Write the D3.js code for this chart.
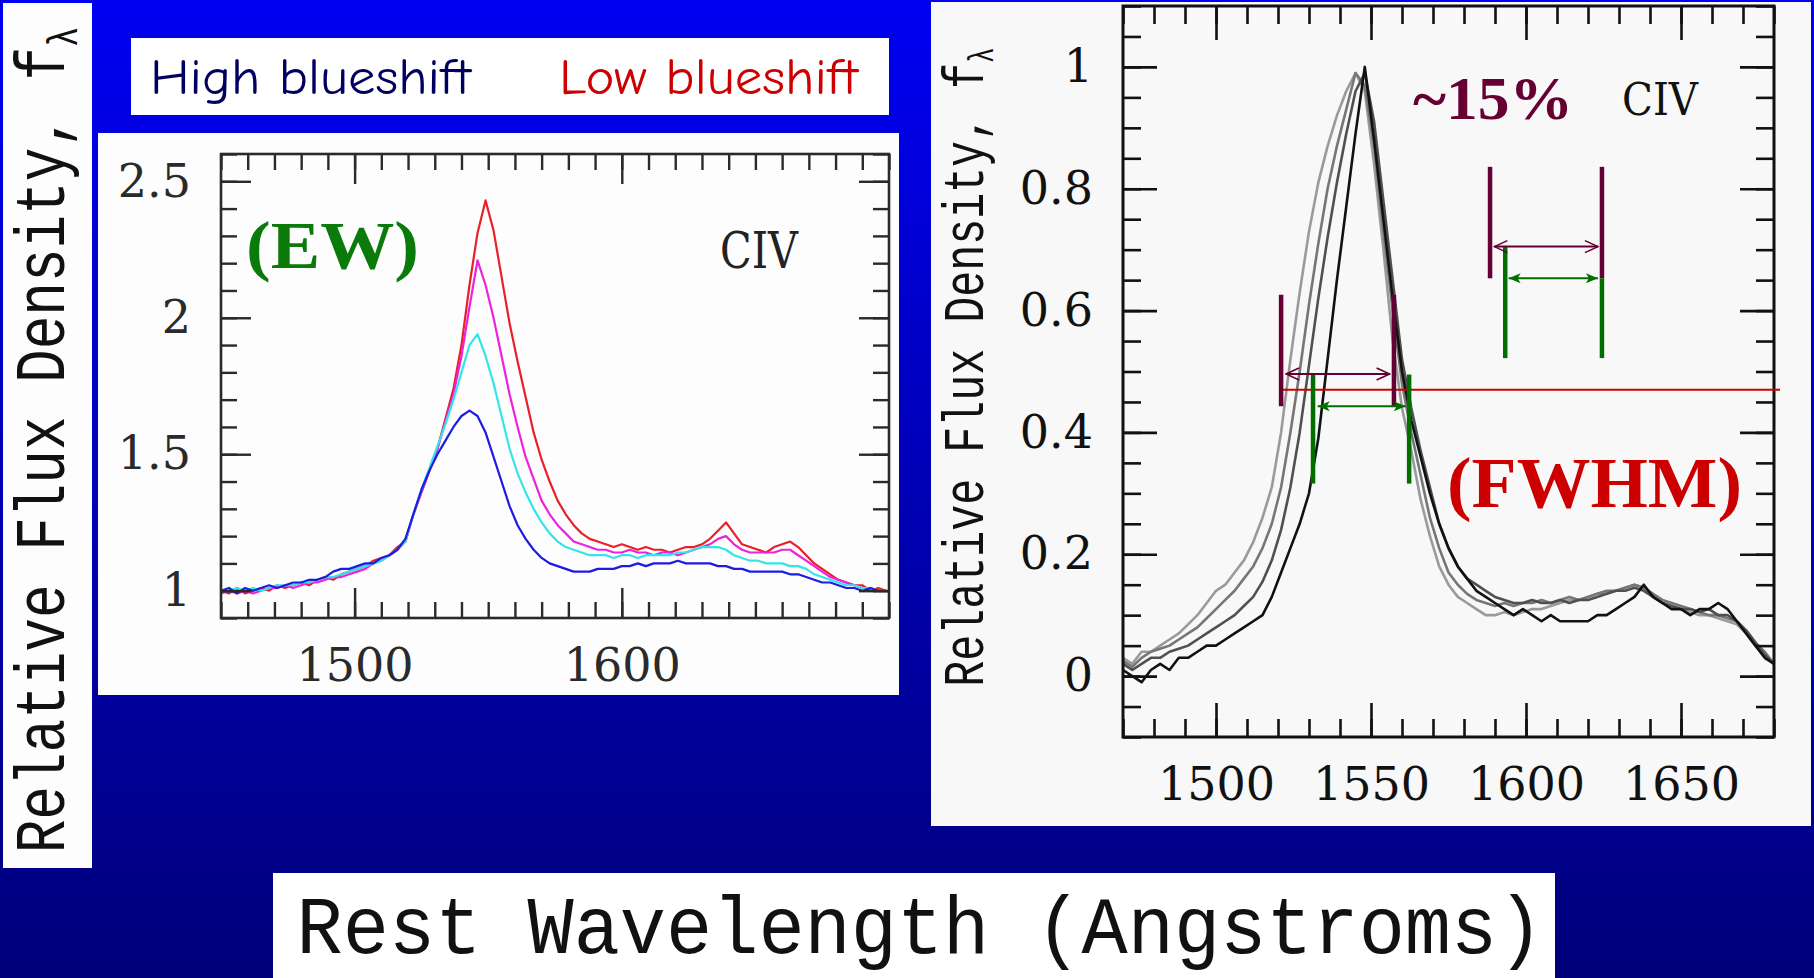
<!DOCTYPE html>
<html>
<head>
<meta charset="utf-8">
<script src="https://cdn.jsdelivr.net/npm/d3@7"></script>
<style>
  html, body { margin: 0; padding: 0; overflow: hidden; background: #000080; }
  svg { display: block; }
</style>
</head>
<body>
<svg id="chart" width="1814" height="978"></svg>
<script>
// ---------- Legend ----------
const legendLabels = ["High blueshift", "Low blueshift"];
const legendColors = ["#00005e", "#cc0000"];

// ---------- Left panel: composite CIV spectra (relative flux vs rest wavelength) ----------
const leftWave = [
  1450,1453,1456,1459,1462,1465,1468,1471,1474,1477,
  1480,1483,1486,1489,1492,1495,1498,1501,1504,1507,
  1510,1513,1516,1519,1522,1525,1528,1531,1534,1537,
  1540,1543,1546,1549,1552,1555,1558,1561,1564,1567,
  1570,1573,1576,1579,1582,1585,1588,1591,1594,1597,
  1600,1603,1606,1609,1612,1615,1618,1621,1624,1627,
  1630,1633,1636,1639,1642,1645,1648,1651,1654,1657,
  1660,1663,1666,1669,1672,1675,1678,1681,1684,1687,
  1690,1693,1696,1699];
const leftRed = [
  1.00,0.99,1.01,0.99,1.00,1.01,1.00,1.02,1.01,1.02,
  1.03,1.02,1.04,1.05,1.04,1.06,1.07,1.08,1.09,1.11,
  1.12,1.13,1.16,1.18,1.28,1.36,1.44,1.52,1.63,1.74,
  1.90,2.12,2.31,2.43,2.32,2.15,1.98,1.84,1.71,1.58,
  1.48,1.40,1.33,1.28,1.24,1.21,1.19,1.18,1.17,1.16,
  1.17,1.16,1.15,1.16,1.15,1.15,1.14,1.15,1.16,1.16,
  1.17,1.19,1.22,1.25,1.21,1.17,1.16,1.15,1.14,1.16,
  1.17,1.18,1.16,1.13,1.10,1.08,1.06,1.04,1.03,1.02,
  1.02,1.00,1.01,1.00];
const leftMagenta = [
  0.99,1.00,0.99,1.00,0.99,1.00,1.01,1.01,1.02,1.01,
  1.02,1.03,1.03,1.04,1.05,1.05,1.06,1.07,1.08,1.10,
  1.11,1.13,1.15,1.18,1.28,1.36,1.44,1.52,1.62,1.72,
  1.86,2.04,2.21,2.12,2.00,1.86,1.72,1.60,1.49,1.41,
  1.33,1.28,1.24,1.21,1.18,1.17,1.16,1.15,1.15,1.14,
  1.14,1.15,1.14,1.14,1.13,1.14,1.14,1.13,1.14,1.15,
  1.16,1.17,1.19,1.20,1.17,1.15,1.14,1.14,1.14,1.14,
  1.15,1.15,1.13,1.11,1.09,1.07,1.05,1.04,1.03,1.02,
  1.01,1.01,1.00,1.00];
const leftCyan = [
  1.00,1.00,1.01,1.00,1.01,1.00,1.01,1.02,1.02,1.02,
  1.03,1.03,1.04,1.05,1.05,1.06,1.07,1.08,1.09,1.10,
  1.11,1.13,1.15,1.18,1.28,1.37,1.45,1.53,1.61,1.70,
  1.80,1.90,1.94,1.86,1.76,1.64,1.52,1.43,1.36,1.30,
  1.25,1.21,1.18,1.16,1.15,1.14,1.13,1.13,1.13,1.12,
  1.13,1.13,1.12,1.13,1.13,1.13,1.13,1.14,1.14,1.15,
  1.16,1.16,1.16,1.15,1.13,1.12,1.11,1.11,1.10,1.10,
  1.10,1.09,1.09,1.08,1.06,1.05,1.04,1.03,1.02,1.02,
  1.01,1.01,1.00,1.00];
const leftBlue = [
  1.00,1.01,0.99,1.01,1.00,1.01,1.02,1.01,1.02,1.03,
  1.03,1.04,1.04,1.05,1.07,1.08,1.08,1.09,1.10,1.10,
  1.12,1.13,1.15,1.19,1.28,1.37,1.44,1.50,1.55,1.60,
  1.64,1.66,1.64,1.58,1.49,1.40,1.31,1.24,1.19,1.15,
  1.12,1.10,1.09,1.08,1.07,1.07,1.07,1.08,1.08,1.08,
  1.09,1.09,1.10,1.09,1.10,1.10,1.10,1.11,1.10,1.10,
  1.10,1.10,1.09,1.09,1.08,1.08,1.07,1.07,1.07,1.07,
  1.07,1.06,1.06,1.05,1.04,1.03,1.03,1.02,1.01,1.01,
  1.00,1.01,1.00,1.00];
const leftSeriesColors = ["#e8202a", "#ee22dc", "#33e4e8", "#1c1ce0"];

const leftXTicks = [1500, 1600];
const leftXTickLabels = ["1500", "1600"];
const leftYTicks = [1, 1.5, 2, 2.5];
const leftYTickLabels = ["1", "1.5", "2", "2.5"];

// ---------- Right panel: peak-normalised CIV profiles ----------
const rightWave = [
  1470,1473,1476,1479,1482,1485,1488,1491,1494,1497,
  1500,1503,1506,1509,1512,1515,1518,1521,1524,1527,
  1530,1533,1536,1539,1542,1545,1548,1551,1554,1557,
  1560,1563,1566,1569,1572,1575,1578,1581,1584,1587,
  1590,1593,1596,1599,1602,1605,1608,1611,1614,1617,
  1620,1623,1626,1629,1632,1635,1638,1641,1644,1647,
  1650,1653,1656,1659,1662,1665,1668,1671,1674,1677,
  1680];
const rightLight = [
  0.03,0.02,0.04,0.04,0.05,0.06,0.07,0.085,0.10,0.12,
  0.14,0.15,0.17,0.19,0.22,0.26,0.31,0.40,0.52,0.63,
  0.73,0.81,0.87,0.92,0.96,0.99,0.96,0.84,0.70,0.55,
  0.44,0.37,0.29,0.23,0.18,0.15,0.13,0.12,0.11,0.10,
  0.10,0.105,0.10,0.105,0.11,0.11,0.115,0.12,0.125,0.125,
  0.13,0.135,0.135,0.14,0.145,0.15,0.145,0.13,0.12,0.115,
  0.11,0.105,0.10,0.10,0.095,0.09,0.085,0.07,0.05,0.035,
  0.02];
const rightMid = [
  0.025,0.015,0.03,0.04,0.045,0.05,0.06,0.07,0.08,0.095,
  0.11,0.125,0.14,0.16,0.18,0.21,0.25,0.31,0.40,0.50,
  0.61,0.71,0.80,0.87,0.93,0.99,0.97,0.87,0.73,0.60,
  0.48,0.40,0.33,0.26,0.21,0.17,0.15,0.135,0.125,0.12,
  0.115,0.12,0.115,0.12,0.12,0.125,0.12,0.125,0.13,0.125,
  0.13,0.135,0.14,0.14,0.145,0.15,0.145,0.135,0.125,0.12,
  0.115,0.11,0.105,0.10,0.10,0.095,0.09,0.075,0.055,0.04,
  0.02];
const rightDark = [
  0.02,0.01,0.02,0.03,0.03,0.04,0.045,0.05,0.06,0.07,
  0.08,0.09,0.10,0.115,0.13,0.155,0.19,0.24,0.31,0.40,
  0.51,0.62,0.72,0.81,0.89,0.96,0.99,0.91,0.78,0.65,
  0.52,0.44,0.37,0.31,0.25,0.21,0.18,0.16,0.15,0.14,
  0.13,0.125,0.12,0.12,0.125,0.12,0.12,0.125,0.12,0.125,
  0.125,0.13,0.135,0.14,0.14,0.145,0.14,0.13,0.12,0.115,
  0.11,0.11,0.105,0.11,0.10,0.10,0.09,0.075,0.055,0.035,
  0.02];
const rightBlack = [
  0.01,0.00,-0.01,0.01,0.02,0.01,0.03,0.03,0.04,0.05,
  0.05,0.06,0.07,0.08,0.09,0.10,0.13,0.17,0.21,0.25,
  0.30,0.39,0.52,0.65,0.77,0.89,1.00,0.88,0.75,0.62,
  0.50,0.42,0.36,0.30,0.25,0.21,0.18,0.16,0.14,0.13,
  0.12,0.11,0.10,0.11,0.10,0.09,0.10,0.09,0.09,0.09,
  0.09,0.10,0.10,0.11,0.12,0.13,0.15,0.13,0.12,0.11,
  0.11,0.10,0.11,0.11,0.12,0.11,0.09,0.07,0.05,0.03,
  0.02];
const rightSeriesColors = ["#9a9a9a", "#767676", "#505050", "#111111"];

const rightXTicks = [1500, 1550, 1600, 1650];
const rightXTickLabels = ["1500", "1550", "1600", "1650"];
const rightYTicks = [0, 0.2, 0.4, 0.6, 0.8, 1];
const rightYTickLabels = ["0", "0.2", "0.4", "0.6", "0.8", "1"];

// Width markers (wavelength, flux) on the right panel
const halfMaxLevel = 0.47;
const halfMaxStart = 1521;
const widthLowPurpleX = [1521, 1557.4];   const widthLowPurpleY = [0.443, 0.626];
const widthLowGreenX  = [1531.3, 1562.3]; const widthLowGreenY  = [0.316, 0.495];
const arrowLowPurple  = [1522.6, 1556.0, 0.496];
const arrowLowGreen   = [1532.8, 1561.2, 0.443];
const widthHighPurpleX = [1588.4, 1624.5]; const widthHighPurpleY = [0.653, 0.836];
const widthHighGreenX  = [1593.3, 1624.5]; const widthHighGreenTop = [0.705, 0.653]; const widthHighGreenBottom = 0.522;
const arrowHighPurple  = [1589.8, 1623.2, 0.705];
const arrowHighGreen   = [1594.4, 1623.2, 0.653];

const purple = "#660033", green = "#006e00", redLine = "#cc0000";

// ---------- Drawing ----------
const W = 1814, H = 978;
const svg = d3.select("#chart");
const defs = svg.append("defs");

const bg = defs.append("linearGradient").attr("id", "bgGrad")
  .attr("x1", 0).attr("y1", 0).attr("x2", 0).attr("y2", 1);
bg.append("stop").attr("offset", "0%").attr("stop-color", "#0000f2");
bg.append("stop").attr("offset", "100%").attr("stop-color", "#00007a");
svg.append("rect").attr("width", W).attr("height", H).attr("fill", "url(#bgGrad)");

// arrow heads
defs.append("marker").attr("id", "headOpen")
  .attr("viewBox", "0 0 16 16").attr("refX", 15).attr("refY", 8)
  .attr("markerWidth", 16).attr("markerHeight", 16).attr("markerUnits", "userSpaceOnUse")
  .attr("orient", "auto-start-reverse")
  .append("path").attr("d", "M2,2 L15,8 L2,14").attr("fill", "none")
  .attr("stroke", purple).attr("stroke-width", 1.6);
defs.append("marker").attr("id", "headFilled")
  .attr("viewBox", "0 0 14 12").attr("refX", 13).attr("refY", 6)
  .attr("markerWidth", 14).attr("markerHeight", 12).attr("markerUnits", "userSpaceOnUse")
  .attr("orient", "auto-start-reverse")
  .append("path").attr("d", "M1,1 L13,6 L1,11 L4,6 Z").attr("fill", green);

// white cards
const cards = [
  [3, 3, 89, 865, "#fdfdfd"],
  [131, 38, 758, 77, "#ffffff"],
  [98, 133, 801, 562, "#fdfdfd"],
  [931, 2, 880, 824, "#f8f8f8"],
  [273, 873, 1282, 110, "#ffffff"]
];
svg.selectAll("rect.card").data(cards).join("rect").attr("class", "card")
  .attr("x", d => d[0]).attr("y", d => d[1]).attr("width", d => d[2]).attr("height", d => d[3])
  .attr("fill", d => d[4]);

// axis titles in a typewriter face
const mono = "'Liberation Mono', 'DejaVu Sans Mono', monospace";
function verticalTitle(cx, baseX, fs, sx) {
  const t = svg.append("text")
    .attr("transform", `translate(${baseX},${cx}) rotate(-90) scale(${sx},1)`)
    .attr("text-anchor", "middle").attr("font-family", mono).attr("font-size", fs).attr("fill", "#111");
  t.append("tspan").text("Relative Flux Density, f");
  t.append("tspan").attr("font-size", fs * 0.6).attr("dy", fs * 0.18).text("λ");
}
verticalTitle(440, 64, 70, 0.80);
verticalTitle(367, 983, 57, 0.76);

svg.append("text")
  .attr("transform", "translate(920,953) scale(0.95,1)")
  .attr("text-anchor", "middle").attr("font-family", mono).attr("font-size", 81)
  .attr("fill", "#111").text("Rest Wavelength (Angstroms)");

// legend
const legendX = [150, 559];
const legendW = [321, 299];
svg.selectAll("text.legend").data(legendLabels).join("text").attr("class", "legend")
  .attr("x", (d, i) => legendX[i]).attr("y", 94)
  .attr("font-family", "'Comic Sans MS', 'Comic Neue', Lato, sans-serif").attr("font-size", 50)
  .attr("font-weight", 500)
  .attr("textLength", (d, i) => legendW[i]).attr("lengthAdjust", "spacingAndGlyphs")
  .attr("fill", (d, i) => legendColors[i]).text(d => d);

// generic framed axes with inward major/minor ticks
function framedAxes(g, x, y, cfg) {
  const [xa, xb] = x.range();
  const [yb, ya] = y.range();
  const minorX = d3.range(cfg.xMinor[0], cfg.xMinor[1] + 1e-6, cfg.xMinor[2]);
  const minorY = d3.range(cfg.yMinor[0], cfg.yMinor[1] + 1e-6, cfg.yMinor[2]);
  const put = (axis, tx, ty) => {
    const a = g.append("g").attr("transform", `translate(${tx},${ty})`).call(axis);
    a.select(".domain").remove();
    return a;
  };
  put(d3.axisBottom(x).tickValues(minorX).tickSize(-cfg.minorLen).tickFormat(""), 0, yb);
  put(d3.axisTop(x).tickValues(minorX).tickSize(-cfg.minorLen).tickFormat(""), 0, ya);
  put(d3.axisLeft(y).tickValues(minorY).tickSize(-cfg.minorLen).tickFormat(""), xa, 0);
  put(d3.axisRight(y).tickValues(minorY).tickSize(-cfg.minorLen).tickFormat(""), xb, 0);
  put(d3.axisBottom(x).tickValues(cfg.xTicks).tickSize(-cfg.majorLen).tickPadding(cfg.xPad)
      .tickFormat((d, i) => cfg.xLabels[i]), 0, yb);
  put(d3.axisTop(x).tickValues(cfg.xTicks).tickSize(-cfg.majorLen).tickFormat(""), 0, ya);
  put(d3.axisLeft(y).tickValues(cfg.yTicks).tickSize(-cfg.majorLen).tickPadding(cfg.yPad)
      .tickFormat((d, i) => cfg.yLabels[i]), xa, 0);
  put(d3.axisRight(y).tickValues(cfg.yTicks).tickSize(-cfg.majorLen).tickFormat(""), xb, 0);
  g.selectAll(".tick line").attr("stroke", cfg.color).attr("stroke-width", cfg.tickW);
  g.selectAll(".tick text").attr("font-family", "'DejaVu Serif', serif")
    .attr("font-size", cfg.fs).attr("fill", cfg.color);
  g.append("rect").attr("x", xa).attr("y", ya).attr("width", xb - xa).attr("height", yb - ya)
    .attr("fill", "none").attr("stroke", cfg.color).attr("stroke-width", cfg.frameW);
}

// ----- left panel -----
const lx = d3.scaleLinear().domain([1450, 1700]).range([221, 889]);
const ly = d3.scaleLinear().domain([0.9, 2.6]).range([618, 154]);
const leftG = svg.append("g");
const leftSeries = [leftRed, leftMagenta, leftCyan, leftBlue];
const leftLine = d3.line().x(d => lx(d[0])).y(d => ly(d[1]));
leftG.selectAll("path.spec").data(leftSeries).join("path").attr("class", "spec")
  .attr("d", s => leftLine(d3.zip(leftWave, s)))
  .attr("fill", "none").attr("stroke", (d, i) => leftSeriesColors[i])
  .attr("stroke-width", 2.2).attr("stroke-linejoin", "round");
framedAxes(leftG, lx, ly, {
  xMinor: [1450, 1700, 10], yMinor: [0.9, 2.6, 0.1],
  xTicks: leftXTicks, xLabels: leftXTickLabels, yTicks: leftYTicks, yLabels: leftYTickLabels,
  majorLen: 30, minorLen: 16, xPad: 30, yPad: 30, fs: 46, color: "#2a2a2a", tickW: 2.4, frameW: 2.6
});
leftG.append("text").attr("x", 246).attr("y", 268)
  .attr("font-family", "'Liberation Serif', serif").attr("font-weight", "bold").attr("font-size", 68)
  .attr("textLength", 173).attr("lengthAdjust", "spacingAndGlyphs")
  .attr("fill", "#0a7a0a").text("(EW)");
leftG.append("text").attr("x", 720).attr("y", 268)
  .attr("font-family", "'DejaVu Serif', serif").attr("font-size", 50)
  .attr("textLength", 78).attr("lengthAdjust", "spacingAndGlyphs")
  .attr("fill", "#222").text("CIV");

// ----- right panel -----
const rx = d3.scaleLinear().domain([1470, 1680]).range([1123, 1774]);
const ry = d3.scaleLinear().domain([-0.1, 1.1]).range([737, 6]);
const rightG = svg.append("g");
const rightSeries = [rightLight, rightMid, rightDark, rightBlack];
const rightLine = d3.line().x(d => rx(d[0])).y(d => ry(d[1]));
rightG.selectAll("path.spec").data(rightSeries).join("path").attr("class", "spec")
  .attr("d", s => rightLine(d3.zip(rightWave, s)))
  .attr("fill", "none").attr("stroke", (d, i) => rightSeriesColors[i])
  .attr("stroke-width", 2.6).attr("stroke-linejoin", "round");
framedAxes(rightG, rx, ry, {
  xMinor: [1470, 1680, 10], yMinor: [-0.1, 1.1, 0.05],
  xTicks: rightXTicks, xLabels: rightXTickLabels, yTicks: rightYTicks, yLabels: rightYTickLabels,
  majorLen: 34, minorLen: 18, xPad: 30, yPad: 30, fs: 46, color: "#111", tickW: 2.6, frameW: 3
});

// half-maximum level
rightG.append("line")
  .attr("x1", rx(halfMaxStart)).attr("x2", rx.range()[1] + 6)
  .attr("y1", ry(halfMaxLevel)).attr("y2", ry(halfMaxLevel))
  .attr("stroke", redLine).attr("stroke-width", 2);

function vbar(xv, y0, y1, color) {
  rightG.append("line").attr("x1", rx(xv)).attr("x2", rx(xv))
    .attr("y1", ry(y0)).attr("y2", ry(y1)).attr("stroke", color).attr("stroke-width", 4.5);
}
function harrow(a, color, marker) {
  rightG.append("line").attr("x1", rx(a[0])).attr("x2", rx(a[1]))
    .attr("y1", ry(a[2])).attr("y2", ry(a[2])).attr("stroke", color).attr("stroke-width", 2)
    .attr("marker-start", `url(#${marker})`).attr("marker-end", `url(#${marker})`);
}
widthLowPurpleX.forEach(v => vbar(v, widthLowPurpleY[0], widthLowPurpleY[1], purple));
widthLowGreenX.forEach(v => vbar(v, widthLowGreenY[0], widthLowGreenY[1], green));
harrow(arrowLowPurple, purple, "headOpen");
harrow(arrowLowGreen, green, "headFilled");
widthHighPurpleX.forEach(v => vbar(v, widthHighPurpleY[0], widthHighPurpleY[1], purple));
widthHighGreenX.forEach((v, i) => vbar(v, widthHighGreenBottom, widthHighGreenTop[i], green));
harrow(arrowHighPurple, purple, "headOpen");
harrow(arrowHighGreen, green, "headFilled");

rightG.append("text").attr("x", 1413).attr("y", 119)
  .attr("font-family", "'Liberation Serif', serif").attr("font-weight", "bold").attr("font-size", 62)
  .attr("textLength", 160).attr("lengthAdjust", "spacingAndGlyphs")
  .attr("fill", purple).text("~15%");
rightG.append("text").attr("x", 1622).attr("y", 115)
  .attr("font-family", "'DejaVu Serif', serif").attr("font-size", 45)
  .attr("textLength", 76).attr("lengthAdjust", "spacingAndGlyphs")
  .attr("fill", "#111").text("CIV");
rightG.append("text").attr("x", 1447).attr("y", 507)
  .attr("font-family", "'Liberation Serif', serif").attr("font-weight", "bold").attr("font-size", 71)
  .attr("textLength", 295).attr("lengthAdjust", "spacingAndGlyphs")
  .attr("fill", "#cc0000").text("(FWHM)");
</script>
</body>
</html>
